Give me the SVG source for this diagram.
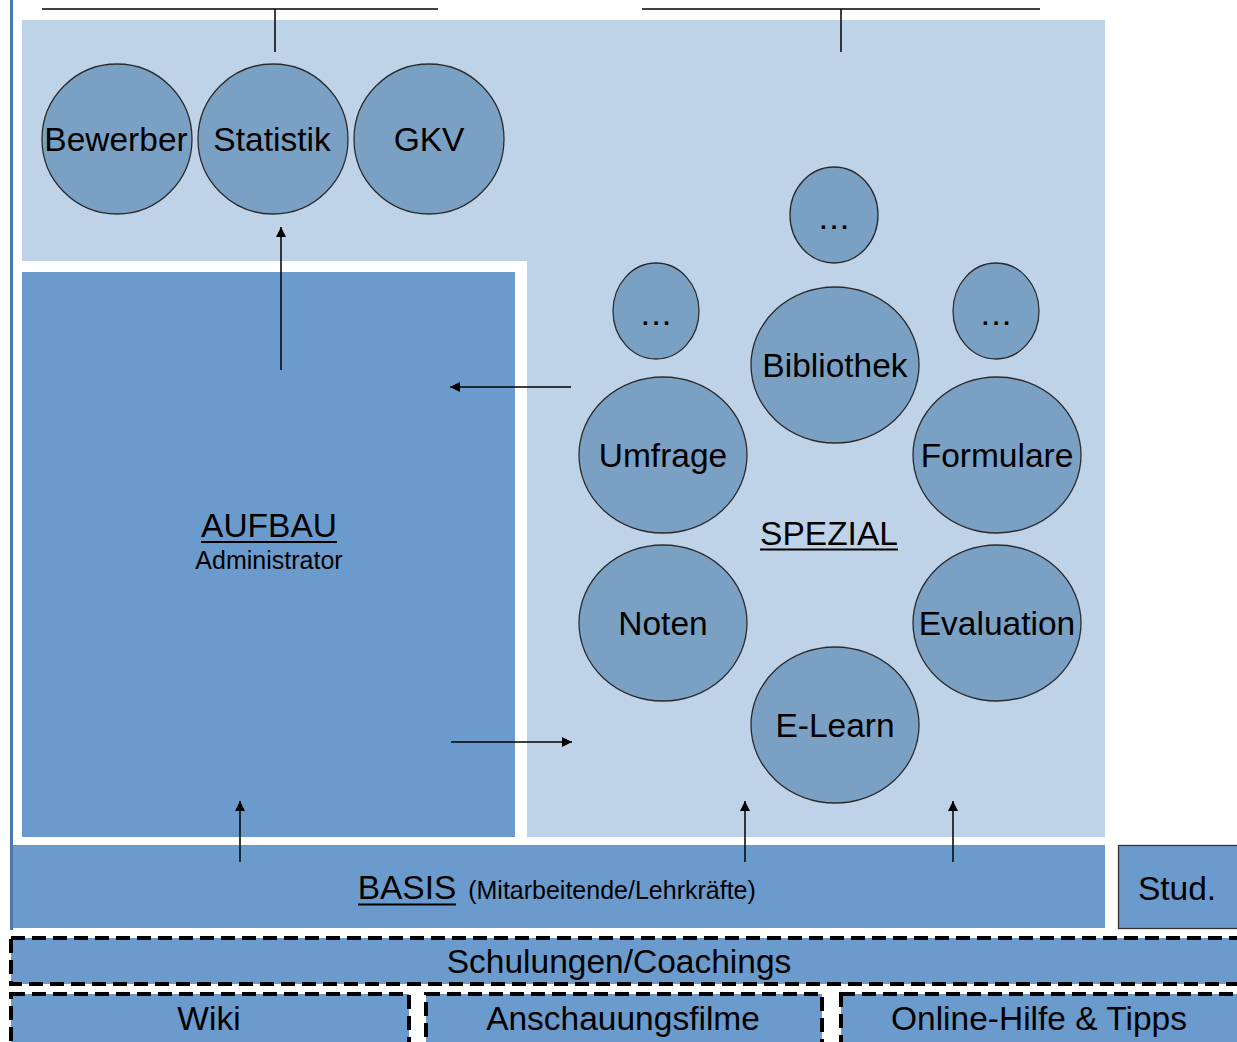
<svg xmlns="http://www.w3.org/2000/svg" width="1237" height="1042" viewBox="0 0 1237 1042">
<defs>
<style>
text{font-family:"Liberation Sans",Arial,sans-serif;fill:#000;text-anchor:middle}
.big{font-size:33.5px}
.small{font-size:25px}
.dots{font-size:24px;font-weight:bold;letter-spacing:4px}
.c{fill:#7aa0c4;stroke:#2b2b2b;stroke-width:1.3}
.line{stroke:#000;stroke-width:1.5;fill:none}
.dash{fill:#6b9bcc;stroke:#000;stroke-width:4;stroke-dasharray:14 7}
</style>
<marker id="ah" viewBox="0 0 10 10" refX="10" refY="5" markerWidth="10" markerHeight="10" markerUnits="userSpaceOnUse" orient="auto">
<path d="M0,0 L10,5 L0,10 Z" fill="#000"/>
</marker>
</defs>
<rect width="1237" height="1042" fill="#fff"/>
<g id="spezial-area">
<rect x="22" y="20" width="1083" height="817" fill="#bfd3e8"/>
<text class="big" x="829" y="545">SPEZIAL</text>
<line x1="760" y1="549.5" x2="898" y2="549.5" stroke="#000" stroke-width="2"/>
</g>
<rect x="10" y="0" width="3" height="930" fill="#4a78a8"/>
<g id="aufbau">
<rect x="13" y="261" width="514" height="584" fill="#fff"/>
<rect x="22" y="272" width="493" height="565" fill="#6b9bcc"/>
<text class="big" x="269" y="537">AUFBAU</text>
<line x1="201" y1="542" x2="337" y2="542" stroke="#000" stroke-width="2"/>
<text class="small" x="269" y="569">Administrator</text>
</g>
<g id="basis">
<rect x="13" y="845" width="1092" height="83" fill="#6b9bcc"/>
<text class="big" x="407" y="899">BASIS</text>
<line x1="358" y1="904.5" x2="456" y2="904.5" stroke="#000" stroke-width="2"/>
<text class="small" x="612" y="899">(Mitarbeitende/Lehrkräfte)</text>
</g>
<g id="stud">
<rect x="1118.5" y="845.5" width="125" height="83" fill="#6b9bcc" stroke="#333" stroke-width="1.3"/>
<text class="big" x="1177" y="900">Stud.</text>
</g>
<g id="schulungen">
<rect class="dash" x="11" y="938" width="1232" height="46"/>
<text class="big" x="619" y="973">Schulungen/Coachings</text>
</g>
<g id="wiki">
<rect class="dash" x="11" y="994" width="398" height="56"/>
<text class="big" x="209" y="1030">Wiki</text>
</g>
<g id="anschauungsfilme">
<rect class="dash" x="426" y="994" width="396" height="56"/>
<text class="big" x="623" y="1030">Anschauungsfilme</text>
</g>
<g id="online-hilfe">
<rect class="dash" x="841" y="994" width="402" height="56"/>
<text class="big" x="1039" y="1030">Online-Hilfe &amp; Tipps</text>
</g>
<g id="bewerber"><circle class="c" cx="117" cy="139" r="75"/><text class="big" x="116" y="151">Bewerber</text></g>
<g id="statistik"><circle class="c" cx="273" cy="139" r="75"/><text class="big" x="272" y="151">Statistik</text></g>
<g id="gkv"><circle class="c" cx="429" cy="139" r="75"/><text class="big" x="429" y="151">GKV</text></g>
<g id="more-top"><ellipse class="c" cx="834" cy="215" rx="44" ry="48"/><text class="dots" x="836" y="229">...</text></g>
<g id="more-left"><ellipse class="c" cx="656" cy="311" rx="43" ry="48"/><text class="dots" x="658" y="325">...</text></g>
<g id="more-right"><ellipse class="c" cx="996" cy="311" rx="43" ry="48"/><text class="dots" x="998" y="325">...</text></g>
<g id="bibliothek"><ellipse class="c" cx="835" cy="365" rx="84" ry="78"/><text class="big" x="835" y="377">Bibliothek</text></g>
<g id="umfrage"><ellipse class="c" cx="663" cy="455" rx="84" ry="78"/><text class="big" x="663" y="467">Umfrage</text></g>
<g id="formulare"><ellipse class="c" cx="997" cy="455" rx="84" ry="78"/><text class="big" x="997" y="467">Formulare</text></g>
<g id="noten"><ellipse class="c" cx="663" cy="623" rx="84" ry="78"/><text class="big" x="663" y="635">Noten</text></g>
<g id="evaluation"><ellipse class="c" cx="997" cy="623" rx="84" ry="78"/><text class="big" x="997" y="635">Evaluation</text></g>
<g id="elearn"><ellipse class="c" cx="835" cy="725" rx="84" ry="78"/><text class="big" x="835" y="737">E-Learn</text></g>
<g id="connectors">
<polyline class="line" points="42,9 438,9"/>
<line class="line" x1="275" y1="9" x2="275" y2="52"/>
<polyline class="line" points="642,9 1040,9"/>
<line class="line" x1="841" y1="9" x2="841" y2="52"/>
<line class="line" x1="281" y1="370" x2="281" y2="227" marker-end="url(#ah)"/>
<line class="line" x1="571" y1="387" x2="450" y2="387" marker-end="url(#ah)"/>
<line class="line" x1="451" y1="742" x2="572" y2="742" marker-end="url(#ah)"/>
<line class="line" x1="240" y1="862" x2="240" y2="801" marker-end="url(#ah)"/>
<line class="line" x1="745" y1="862" x2="745" y2="801" marker-end="url(#ah)"/>
<line class="line" x1="953" y1="862" x2="953" y2="801" marker-end="url(#ah)"/>
</g>
</svg>
